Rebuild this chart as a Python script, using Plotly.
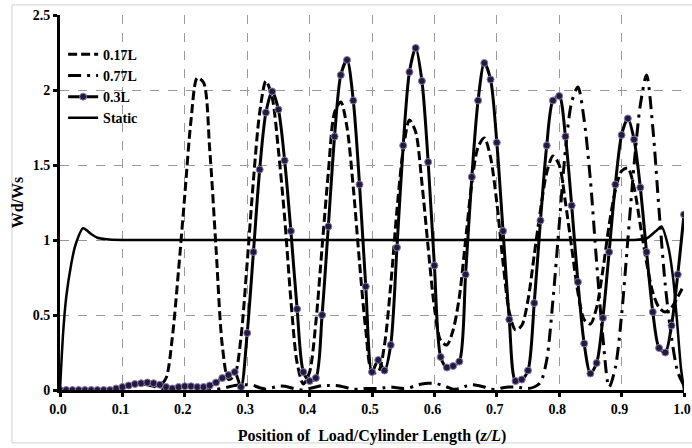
import plotly.graph_objects as go

# ---------------- data ----------------
z = [round(i * 0.01, 2) for i in range(101)]

l017 = [0, 0, 0, 0, 0, 0, 0, 0, 0.01, 0.01, 0.02, 0.03, 0.04, 0.04, 0.04, 0.03, 0.03,
        0.08, 0.35, 0.8, 1.3, 1.8, 2.08, 2.05, 1.6, 0.95, 0.3, 0.07, 0.1, 0.35,
        0.85, 1.4, 1.85, 2.06, 1.95, 1.6, 1.15, 0.6, 0.18, 0.04,
        0.12, 0.45, 0.95, 1.45, 1.85, 1.92, 1.75, 1.35, 0.85, 0.4,
        0.12, 0.12, 0.3, 0.7, 1.2, 1.6, 1.8, 1.72, 1.38, 0.95,
        0.55, 0.33, 0.3, 0.4, 0.62, 1.0, 1.38, 1.62, 1.68, 1.55,
        1.25, 0.85, 0.52, 0.4, 0.43, 0.6, 0.9, 1.2, 1.45, 1.56,
        1.5, 1.25, 0.95, 0.65, 0.47, 0.44, 0.55, 0.8, 1.1, 1.33,
        1.46, 1.48, 1.35, 1.1, 0.85, 0.65, 0.55, 0.52, 0.55, 0.62,
        0.7]

l077 = [0, 0, 0, 0, 0, 0, 0, 0, 0, 0.01,
        0.025, 0.035, 0.04, 0.04, 0.035, 0.025, 0.01, 0.005, 0.01, 0.015,
        0.02, 0.02, 0.02, 0.015, 0.01, 0.005, 0.01, 0.02, 0.03, 0.035,
        0.035, 0.03, 0.015, 0.005, 0.015, 0.025, 0.025, 0.015, 0.005, 0.0,
        0.01, 0.02, 0.03, 0.03, 0.03, 0.025, 0.015, 0.005, 0.005, 0.01,
        0.01, 0.01, 0.015, 0.02, 0.015, 0.01, 0.015, 0.03, 0.04, 0.045,
        0.045, 0.035, 0.02, 0.005, 0.01, 0.025, 0.035, 0.03, 0.02, 0.005,
        0.005, 0.015, 0.02, 0.02, 0.015, 0.01, 0.02, 0.05, 0.2, 0.6,
        1.1, 1.6, 1.92, 2.02, 1.8, 1.4, 0.85, 0.35, 0.02, 0.15,
        0.5, 1.0, 1.5, 1.9, 2.1, 1.75, 1.2, 0.7, 0.35, 0.12,
        0.03]

l030 = [0, 0, 0, 0, 0, 0, 0, 0, 0, 0.01,
        0.02, 0.03, 0.04, 0.045, 0.05, 0.045, 0.035, 0.02, 0.01, 0.02,
        0.025, 0.025, 0.02, 0.02, 0.03, 0.05, 0.08, 0.1, 0.12, 0.02,
        0.38, 0.92, 1.47, 1.85, 1.99, 1.87, 1.53, 1.06, 0.54, 0.12,
        0.06, 0.08, 0.5, 1.09, 1.69, 2.1, 2.2, 1.93, 1.37, 0.69,
        0.12, 0.2, 0.13, 0.3, 0.95, 1.63, 2.12, 2.28, 2.06, 1.52,
        0.83, 0.22, 0.15, 0.16, 0.19, 0.77, 1.42, 1.93, 2.18, 2.07,
        1.65, 1.06, 0.47, 0.06, 0.07, 0.13, 0.58, 1.13, 1.63, 1.93,
        1.96, 1.69, 1.23, 0.72, 0.31, 0.11, 0.18, 0.48, 0.92, 1.37,
        1.7, 1.81, 1.67, 1.35, 0.92, 0.52, 0.28, 0.25, 0.43, 0.77,
        1.17]

static_z = [0, 0.005, 0.01, 0.018, 0.025, 0.037, 0.05, 0.06, 0.074, 0.1,
            0.2, 0.3, 0.4, 0.5, 0.6, 0.7, 0.8, 0.9, 0.92, 0.94,
            0.955, 0.964, 0.975, 0.983, 0.99, 0.995, 1.0]
static_v = [0, 0.38, 0.62, 0.84, 0.97, 1.078, 1.04, 1.015, 1.005, 1.0,
            1.0, 1.0, 1.0, 1.0, 1.0, 1.0, 1.0, 1.0, 1.0, 1.01,
            1.06, 1.09, 0.95, 0.73, 0.4, 0.15, 0.0]

x_ticks = [0.0, 0.1, 0.2, 0.3, 0.4, 0.5, 0.6, 0.7, 0.8, 0.9, 1.0]
y_ticks = [0, 0.5, 1, 1.5, 2, 2.5]

FONT = "Liberation Serif"

fig = go.Figure()
fig.add_trace(go.Scatter(x=z, y=l017, name="0.17L", mode="lines",
                         line=dict(color="black", width=3, dash="9px,4px",
                                   shape="spline", smoothing=0.8)))
fig.add_trace(go.Scatter(x=z, y=l077, name="0.77L", mode="lines",
                         line=dict(color="black", width=3, dash="13px,6px,3px,6px",
                                   shape="spline", smoothing=0.8)))
fig.add_trace(go.Scatter(x=z, y=l030, name="0.3L", mode="lines+markers",
                         line=dict(color="black", width=3, shape="spline", smoothing=0.8),
                         marker=dict(size=7, color="#221a3c",
                                     line=dict(color="#8a7bb0", width=1))))
fig.add_trace(go.Scatter(x=static_z, y=static_v, name="Static", mode="lines",
                         line=dict(color="black", width=2.5, shape="spline", smoothing=0.6)))

fig.update_layout(
    width=692, height=448,
    margin=dict(l=60, r=8, t=15, b=58, autoexpand=False),
    paper_bgcolor="white", plot_bgcolor="white",
    font=dict(family=FONT, color="black"),
    showlegend=True,
    legend=dict(x=0.005, y=0.937, xanchor="left", yanchor="top",
                bgcolor="rgba(0,0,0,0)", itemwidth=30,
                font=dict(family=FONT, size=14, weight="bold", color="black")),
    xaxis=dict(range=[0, 1.0], tickvals=x_ticks, tickformat=".1f",
               showgrid=True, gridcolor="#9a9a9a", griddash="dash", gridwidth=1,
               showline=True, linecolor="black", linewidth=3,
               ticks="outside", ticklen=4, tickwidth=3, tickcolor="black",
               ticklabeloverflow="allow", ticklabelshift=-2,
               tickfont=dict(family=FONT, size=14, weight="bold"),
               zeroline=False,
               title=dict(text="Position of  Load/Cylinder Length (<i>z/L</i>)",
                          font=dict(family=FONT, size=16, weight="bold"),
                          standoff=15)),
    yaxis=dict(range=[0, 2.5], tickvals=y_ticks,
               showgrid=True, gridcolor="#9a9a9a", griddash="dash", gridwidth=1,
               showline=True, linecolor="black", linewidth=3,
               ticks="outside", ticklen=4, tickwidth=3, tickcolor="black",
               tickfont=dict(family=FONT, size=14, weight="bold"),
               zeroline=False,
               title=dict(text="Wd/Ws",
                          font=dict(family=FONT, size=16, weight="bold"),
                          standoff=6)),
    shapes=[dict(type="rect", xref="paper", yref="paper",
                 x0=-0.077, x1=1.05, y0=-0.141, y1=1.027,
                 line=dict(color="#d0d0d0", width=1), layer="below")],
)

# remove the default page margin so the figure sits at the window's top-left corner
fig.write_html("out.html",
               config={"displayModeBar": False},
               post_script="document.body.style.margin='0';document.body.style.overflow='hidden';")
